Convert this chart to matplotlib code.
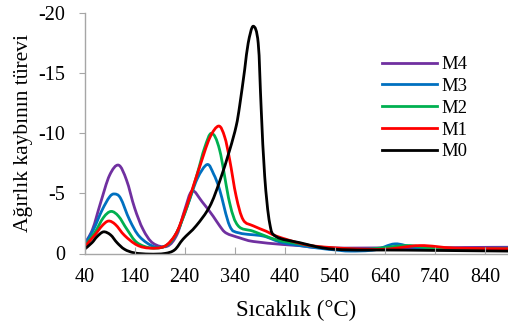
import numpy as np
import matplotlib
matplotlib.use("Agg")
import matplotlib.pyplot as plt
from matplotlib.path import Path
from matplotlib.patches import PathPatch
from matplotlib.lines import Line2D

plt.rcParams['font.family'] = ['Liberation Serif', 'DejaVu Serif']

# Veriler
labels = ["M4", "M3", "M2", "M1", "M0"]
colors = ["#7030A0", "#0070C0", "#00B050", "#FF0000", "#000000"]

temp_m4 = [40, 56, 72, 90, 108, 124, 140, 157, 177, 205, 225, 240, 255, 275, 297, 310, 323, 350, 377, 436, 470, 503, 560, 636, 700, 800, 886]
dtg_m4 = [-0.8, -2.0, -4.2, -6.5, -7.35, -6.1, -3.8, -2.0, -0.85, -0.6, -1.6, -3.6, -5.2, -4.3, -3.1, -2.3, -1.7, -1.3, -1.0, -0.75, -0.65, -0.5, -0.45, -0.47, -0.45, -0.5, -0.52]

temp_m3 = [40, 58, 75, 90, 100, 112, 130, 150, 180, 205, 225, 245, 265, 285, 298, 310, 330, 350, 397, 436, 503, 540, 570, 620, 660, 700, 760, 886]
dtg_m3 = [-0.7, -2.0, -3.6, -4.7, -4.95, -4.6, -2.8, -1.4, -0.55, -0.7, -1.8, -3.9, -6.2, -7.4, -6.6, -5.3, -2.3, -1.7, -1.45, -0.9, -0.47, -0.3, -0.2, -0.3, -0.8, -0.5, -0.4, -0.45]

temp_m2 = [40, 60, 78, 93, 108, 125, 145, 175, 205, 225, 245, 265, 280, 294, 310, 330, 347, 377, 423, 470, 520, 600, 683, 740, 886]
dtg_m2 = [-0.6, -1.7, -3.0, -3.5, -3.1, -2.0, -0.9, -0.45, -0.7, -1.8, -3.9, -6.6, -8.8, -10.0, -8.6, -4.2, -2.3, -1.85, -1.15, -0.8, -0.5, -0.35, -0.66, -0.45, -0.4]

temp_m1 = [40, 60, 75, 88, 102, 120, 145, 170, 200, 222, 237, 255, 270, 290, 308, 320, 330, 343, 357, 377, 403, 423, 470, 503, 570, 640, 710, 780, 886]
dtg_m1 = [-0.55, -1.5, -2.3, -2.7, -2.4, -1.5, -0.7, -0.45, -0.6, -1.6, -3.1, -5.3, -7.2, -9.6, -10.6, -9.7, -7.8, -4.75, -2.8, -2.3, -1.85, -1.45, -0.85, -0.6, -0.4, -0.35, -0.66, -0.45, -0.4]

temp_m0 = [40, 55, 65, 78, 92, 105, 120, 140, 170, 200, 220, 237, 263, 290, 310, 330, 343, 350, 360, 367, 377, 387, 393, 400, 410, 423, 470, 540, 683, 886]
dtg_m0 = [-0.35, -0.9, -1.4, -1.8, -1.55, -0.9, -0.35, -0.05, 0.05, 0.0, -0.3, -1.2, -2.3, -3.9, -6.0, -8.6, -10.6, -12.3, -15.3, -17.5, -18.9, -17.5, -12.0, -6.4, -2.5, -1.4, -0.9, -0.35, -0.28, -0.2]

temps = [temp_m4, temp_m3, temp_m2, temp_m1, temp_m0]
dtgs = [dtg_m4, dtg_m3, dtg_m2, dtg_m1, dtg_m0]

x_ticks = [40, 140, 240, 340, 440, 540, 640, 740, 840]
y_ticks = [0, -5, -10, -15, -20]


def smooth_path(x, y):
    # Excel tarzı yumuşatılmış çizgi (Catmull-Rom -> Bezier)
    p = np.column_stack([x, y]).astype(float)
    n = len(p)
    verts = [p[0]]
    codes = [Path.MOVETO]
    for i in range(n - 1):
        p0 = p[i - 1] if i > 0 else p[i]
        p3 = p[i + 2] if i + 2 < n else p[i + 1]
        c1 = p[i] + (p[i + 1] - p0) / 6
        c2 = p[i + 1] - (p3 - p[i]) / 6
        verts += [c1, c2, p[i + 1]]
        codes += [Path.CURVE4] * 3
    return Path(verts, codes)


fig = plt.figure(figsize=(5.08, 3.24), dpi=100)
ax = fig.add_axes([84.5 / 508, 1 - 253.5 / 324, 1 - 84.5 / 508, (253.5 - 13) / 324])

for x, y, c in zip(temps, dtgs, colors):
    ax.add_patch(PathPatch(smooth_path(x, y), facecolor='none', edgecolor=c,
                           lw=2.0, capstyle='round', joinstyle='round'))

ax.set_xlim(40, 886)
ax.set_ylim(0, -20)
ax.set_xticks(x_ticks)
ax.set_yticks(y_ticks)
ax.set_yticklabels([str(v) for v in y_ticks])

for s in ['top', 'right']:
    ax.spines[s].set_visible(False)
for s in ['left', 'bottom']:
    ax.spines[s].set_color('#A6A6A6')
    ax.spines[s].set_linewidth(1.0)

ax.tick_params(axis='x', direction='in', length=5, color='#A6A6A6', labelsize=14.5, pad=10.5)
ax.tick_params(axis='y', direction='out', length=4, color='#A6A6A6', labelsize=14.5, pad=10)

ax.set_xlabel("Sıcaklık (°C)", fontsize=16.5, labelpad=9)
ax.set_ylabel("Ağırlık kaybının türevi", fontsize=15.5, labelpad=4)

handles = [Line2D([], [], color=c, lw=2.0) for c in colors]
ax.legend(handles, labels, loc='upper left', bbox_to_anchor=(382 / 508, 1 - 56 / 324),
          bbox_transform=fig.transFigure, frameon=False, fontsize=13.5,
          handlelength=2.95, handletextpad=0.2, labelspacing=0.25, borderpad=0, borderaxespad=0)

fig.savefig("out.png", dpi=100)
